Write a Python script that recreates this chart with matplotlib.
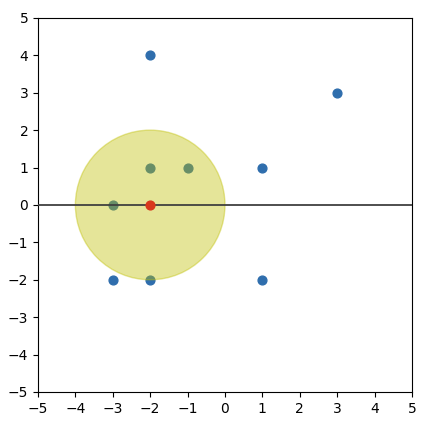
import matplotlib
matplotlib.use("Agg")
import matplotlib.pyplot as plt
import numpy as np

# data points
xs = [-2, 3, -2, -1, 1, -3, -3, -2, 1]
ys = [4, 3, 1, 1, 1, 0, -2, -2, -2]
center = (-2, 0)
radius = 2

fig = plt.figure(figsize=(4.24, 4.32), dpi=100)
ax = fig.add_axes([0.0896, 0.0926, 0.882, 0.866])

ax.scatter(xs, ys, color="#2f6ead", s=40, zorder=2)
circle = plt.Circle(center, radius, color="#bfbf00", alpha=0.4, zorder=3)
ax.add_patch(circle)
ax.axhline(0, color="#404040", linewidth=1.3, zorder=4)
ax.scatter([center[0]], [center[1]], color="#d8381c", s=40, zorder=5)

ax.set_xlim(-5, 5)
ax.set_ylim(-5, 5)
ax.set_xticks(np.arange(-5, 6))
ax.set_yticks(np.arange(-5, 6))

fig.savefig("out.png", dpi=100)
